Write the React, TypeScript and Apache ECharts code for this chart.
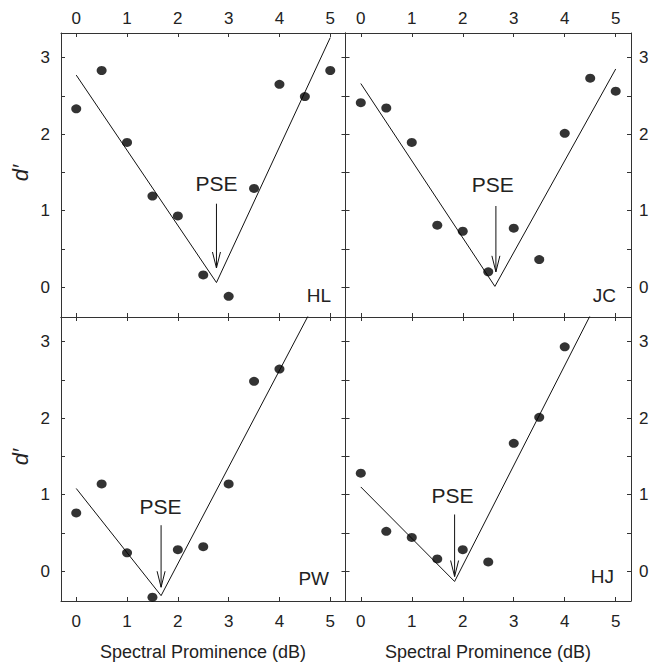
import React, { useEffect, useRef } from "react";
import * as echarts from "echarts";

// Spectral prominence values (dB)
const xs = [0, 0.5, 1, 1.5, 2, 2.5, 3, 3.5, 4, 4.5, 5];
const xTicks = [0, 1, 2, 3, 4, 5];
const yTicks = [0, 0.5, 1, 1.5, 2, 2.5, 3];
const yLabels = [0, 1, 2, 3];

// d' values per listener
const hlValues = [2.33, 2.83, 1.89, 1.19, 0.93, 0.16, -0.12, 1.29, 2.65, 2.49, 2.83];
const jcValues = [2.41, 2.34, 1.89, 0.81, 0.73, 0.2, 0.77, 0.36, 2.01, 2.73, 2.56];
const pwValues = [0.76, 1.14, 0.24, -0.34, 0.28, 0.32, 1.14, 2.48, 2.64];
const hjValues = [1.28, 0.52, 0.44, 0.16, 0.28, 0.12, 1.67, 2.01, 2.93];

// fitted V-shaped lines [x, y]
const hlFit = [[0, 2.77], [2.76, 0.06], [5.0, 3.26]];
const jcFit = [[0, 2.66], [2.63, 0.01], [5.0, 2.85]];
const pwFit = [[0, 1.08], [1.67, -0.32], [4.6, 3.38]];
const hjFit = [[0, 1.1], [1.84, -0.135], [4.5, 3.34]];

// PSE arrows: [arrowX, arrowTop, arrowBottom, textX, textY]
const hlPse = [2.76, 1.09, 0.25, 2.76, 1.36];
const jcPse = [2.65, 1.06, 0.2, 2.59, 1.34];
const pwPse = [1.67, 0.6, -0.21, 1.66, 0.84];
const hjPse = [1.84, 0.74, -0.07, 1.8, 0.99];

const panelNames = ["HL", "JC", "PW", "HJ"];

const FONT = "'Liberation Sans', Arial, Helvetica, sans-serif";
const INK = "#111";
const AXIS = "#333";

const grids = [
  { left: 61, top: 33, width: 284.5, height: 284 },
  { left: 345.5, top: 33, width: 285.5, height: 284 },
  { left: 61, top: 317, width: 284.5, height: 284 },
  { left: 345.5, top: 317, width: 285.5, height: 284 },
];

export default function App() {
  const ref = useRef<HTMLDivElement>(null);
  useEffect(() => {
    if (!ref.current) return;
    const chart = echarts.init(ref.current, undefined, { renderer: "svg" });

    const panels = [
      { values: hlValues, fit: hlFit, pse: hlPse },
      { values: jcValues, fit: jcFit, pse: jcPse },
      { values: pwValues, fit: pwFit, pse: pwPse },
      { values: hjValues, fit: hjFit, pse: hjPse },
    ];

    const xAxis: any[] = [];
    const yAxis: any[] = [];
    const series: any[] = [];

    panels.forEach((p, i) => {
      const isTop = i < 2;
      const isLeft = i % 2 === 0;
      ["top", "bottom"].forEach((pos) => {
        const showLabel = (pos === "top") === isTop;
        xAxis.push({
          type: "value",
          gridIndex: i,
          position: pos,
          min: -0.3,
          max: 5.3,
          axisLine: { show: true, onZero: false, lineStyle: { color: AXIS, width: 1 } },
          axisTick: { show: true, inside: true, length: 4, customValues: xTicks, lineStyle: { color: AXIS } },
          axisLabel: {
            show: showLabel,
            customValues: xTicks,
            fontSize: 17,
            fontFamily: FONT,
            color: "#222",
            margin: pos === "top" ? 6 : 12,
          },
          splitLine: { show: false },
        });
      });
      ["left", "right"].forEach((pos) => {
        const showLabel = (pos === "left") === isLeft;
        yAxis.push({
          type: "value",
          gridIndex: i,
          position: pos,
          min: -0.39,
          max: 3.32,
          axisLine: { show: true, onZero: false, lineStyle: { color: AXIS, width: 1 } },
          axisTick: { show: true, inside: true, length: 4, customValues: yTicks, lineStyle: { color: AXIS } },
          axisLabel: {
            show: showLabel,
            customValues: yLabels,
            fontSize: 17,
            fontFamily: FONT,
            color: "#222",
            margin: pos === "left" ? 11 : 8,
          },
          splitLine: { show: false },
        });
      });

      const xi = 2 * i;
      const yi = 2 * i;
      series.push({
        type: "line",
        xAxisIndex: xi,
        yAxisIndex: yi,
        data: p.fit,
        symbol: "none",
        clip: true,
        lineStyle: { color: INK, width: 1 },
        z: 2,
      });
      series.push({
        type: "scatter",
        xAxisIndex: xi,
        yAxisIndex: yi,
        data: p.values.map((v, k) => [xs[k], v]),
        symbol: "circle",
        symbolSize: [10, 9],
        itemStyle: { color: "#000" },
        z: 3,
      });
      series.push({
        type: "custom",
        xAxisIndex: xi,
        yAxisIndex: yi,
        clip: false,
        data: [p.pse],
        renderItem: (params: any, api: any) => {
          const top = api.coord([api.value(0), api.value(1)]);
          const bot = api.coord([api.value(0), api.value(2)]);
          const txt = api.coord([api.value(3), api.value(4)]);
          return {
            type: "group",
            children: [
              {
                type: "line",
                shape: { x1: top[0], y1: top[1], x2: bot[0], y2: bot[1] },
                style: { stroke: INK, lineWidth: 1 },
              },
              {
                type: "polyline",
                shape: { points: [[bot[0] - 4, bot[1] - 16], [bot[0], bot[1]], [bot[0] + 4, bot[1] - 16]] },
                style: { stroke: INK, lineWidth: 1, fill: null },
              },
              {
                type: "text",
                style: {
                  text: "PSE",
                  x: txt[0],
                  y: txt[1],
                  align: "center",
                  verticalAlign: "middle",
                  fontSize: 21,
                  fontFamily: FONT,
                  fill: "#222",
                },
              },
            ],
          };
        },
        z: 4,
      });
    });

    const labelPos = [
      { x: 331, y: 295 },
      { x: 616, y: 295 },
      { x: 329, y: 578 },
      { x: 614, y: 576 },
    ];

    const graphic: any[] = [];
    panelNames.forEach((n, i) => {
      graphic.push({
        type: "text",
        x: labelPos[i].x,
        y: labelPos[i].y,
        style: { text: n, align: "right", verticalAlign: "middle", fontSize: 19, fontFamily: FONT, fill: "#222" },
      });
    });
    [173, 457].forEach((yy) => {
      graphic.push({
        type: "text",
        x: 20,
        y: yy,
        rotation: Math.PI / 2,
        style: {
          text: "d\u2032",
          align: "center",
          verticalAlign: "middle",
          fontSize: 22,
          fontStyle: "italic",
          fontFamily: FONT,
          fill: "#222",
        },
      });
    });
    [203, 488].forEach((xx) => {
      graphic.push({
        type: "text",
        x: xx,
        y: 652,
        style: {
          text: "Spectral Prominence (dB)",
          align: "center",
          verticalAlign: "middle",
          fontSize: 18,
          fontFamily: FONT,
          fill: "#222",
        },
      });
    });

    chart.setOption({
      animation: false,
      backgroundColor: "#fff",
      grid: grids.map((g) => ({ ...g })),
      xAxis,
      yAxis,
      series,
      graphic,
    });
    return () => chart.dispose();
  }, []);
  return (
    <div
      ref={ref}
      style={{ position: "absolute", left: 0, top: 0, width: 657, height: 662 }}
    />
  );
}
